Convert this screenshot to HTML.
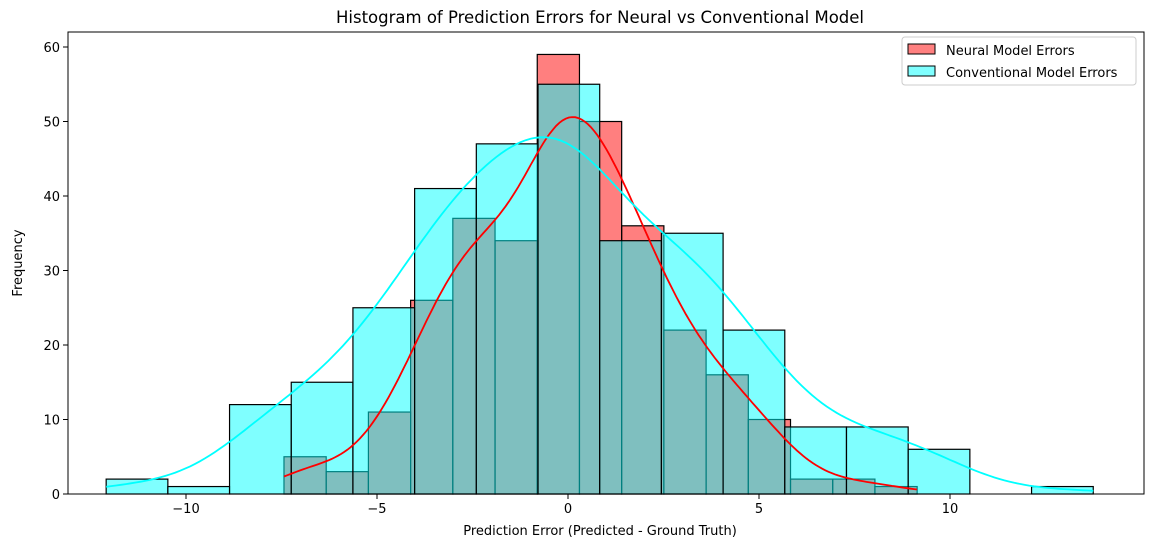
<!DOCTYPE html>
<html><head><meta charset="utf-8"><style>
body{margin:0;background:#fff;}
svg{display:block;font-family:"DejaVu Sans","Liberation Sans",sans-serif;}
</style></head><body>
<svg id="chart" width="1151" height="547"></svg>
<script>
const neuralCounts=[5,3,11,26,37,34,59,50,36,22,16,10,2,2,1];
const neuralStart=-7.435, neuralWidth=1.105;
const convCounts=[2,1,12,15,25,41,47,55,34,35,22,9,9,6,0,1];
const convStart=-12.09, convWidth=1.615;
const xTicks=[-10,-5,0,5,10];
const yTicks=[0,10,20,30,40,50,60];

const L=68,R=1144,T=32,B=494;
const X=v=>568+v*38.2;
const Y=v=>494-v*7.45;
const svg=document.getElementById('chart');
const NS='http://www.w3.org/2000/svg';
function mk(tag,attrs,parent){const e=document.createElementNS(NS,tag);for(const k in attrs)e.setAttribute(k,attrs[k]);(parent||svg).appendChild(e);return e;}

function bars(counts,start,w,fill,name){
  const g=mk('g',{});
  
  
  counts.forEach((c,i)=>{
    if(c<=0)return;
    const x0=X(start+i*w),x1=X(start+(i+1)*w);
    const r=mk('rect',{x:x0,y:Y(c),width:x1-x0,height:Y(0)-Y(c),fill:fill,'fill-opacity':0.5,stroke:'#000','stroke-width':1.2},g);
    
    
  });
}
function kde(counts,start,w,color,name,bwScale){
  let n=0,m=0;counts.forEach((c,i)=>{n+=c;m+=c*(start+(i+.5)*w);});m/=n;
  let v=0;counts.forEach((c,i)=>{const d=start+(i+.5)*w-m;v+=c*d*d;});
  const h=Math.sqrt(v/n)*Math.pow(n,-0.2)*bwScale;
  const hh=Math.sqrt(h*h+w*w/12);
  const a=start,b=start+counts.length*w;
  let pts=[];
  for(let k=0;k<=200;k++){
    const x=a+(b-a)*k/200;let d=0;
    counts.forEach((c,i)=>{const z=(x-(start+(i+.5)*w))/hh;d+=c*Math.exp(-z*z/2);});
    d=d/(hh*Math.sqrt(2*Math.PI))*w;
    pts.push(X(x).toFixed(1)+','+Y(d).toFixed(1));
  }
  const p=mk('polyline',{points:pts.join(' '),fill:'none',stroke:color,'stroke-width':1.8});
  
  
}
bars(neuralCounts,neuralStart,neuralWidth,'#ff0000','neural');
bars(convCounts,convStart,convWidth,'#00ffff','conventional');
kde(neuralCounts,neuralStart,neuralWidth,'#ff0000','neural',1.0);
kde(convCounts,convStart,convWidth,'#00ffff','conventional',1.0);

const frame=mk('rect',{x:L,y:T,width:R-L,height:B-T,fill:'none',stroke:'#000','stroke-width':1});


xTicks.forEach(t=>{
  mk('line',{x1:X(t),x2:X(t),y1:B,y2:B+5,stroke:'#000'});
  const tx=mk('text',{x:X(t),y:B+19,'text-anchor':'middle','font-size':13});
  tx.textContent=(t<0?'\u2212'+(-t):t);
  
  
});
yTicks.forEach(t=>{
  mk('line',{x1:L-5,x2:L,y1:Y(t),y2:Y(t),stroke:'#000'});
  const tx=mk('text',{x:L-8,y:Y(t)+5,'text-anchor':'end','font-size':13});
  tx.textContent=t;
  
  
});
</script>
<svg width="1151" height="547" style="position:absolute;left:0;top:0">
<text x="600" y="23" text-anchor="middle" font-size="16.5" font-family="DejaVu Sans, Liberation Sans, sans-serif">Histogram of Prediction Errors for Neural vs Conventional Model</text>
<text x="600" y="535" text-anchor="middle" font-size="13" font-family="DejaVu Sans, Liberation Sans, sans-serif">Prediction Error (Predicted - Ground Truth)</text>
<text transform="translate(22,263) rotate(-90)" text-anchor="middle" font-size="13" font-family="DejaVu Sans, Liberation Sans, sans-serif">Frequency</text>
<g font-family="DejaVu Sans, Liberation Sans, sans-serif">
<rect x="902" y="37" width="234" height="48" rx="3" fill="#fff" fill-opacity="0.8" stroke="#ccc"/>
<rect x="908" y="44" width="27" height="10" fill="#ff8080" stroke="#000"/>
<text x="946" y="55" font-size="13">Neural Model Errors</text>
<rect x="908" y="66" width="27" height="10" fill="#80ffff" stroke="#000"/>
<text x="946" y="77" font-size="13">Conventional Model Errors</text>
</g>
</svg>
</body></html>
